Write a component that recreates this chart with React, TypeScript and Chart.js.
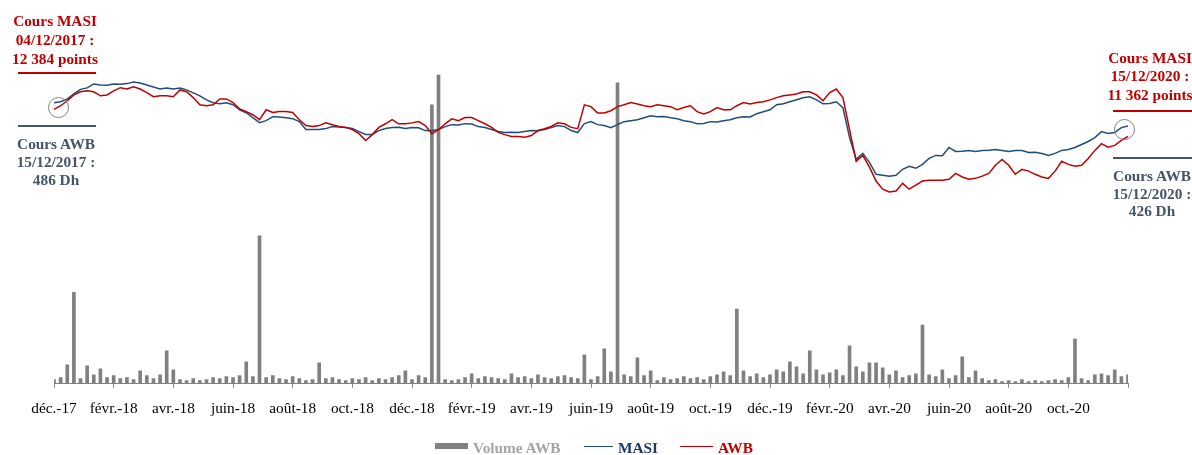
import React, { useEffect, useRef } from "react";
import { Chart, registerables } from "chart.js";

Chart.register(...registerables);

// ---------- data ----------
const START_DATE = "2017-12-04";
const END_DATE = "2020-12-15";
const POINT_COUNT = 163; // ~ one point per week
const TICK_STEP = 9; // one axis label every 9 points (~2 months)

const TICK_LABELS = [
  "déc.-17", "févr.-18", "avr.-18", "juin-18", "août-18", "oct.-18",
  "déc.-18", "févr.-19", "avr.-19", "juin-19", "août-19", "oct.-19",
  "déc.-19", "févr.-20", "avr.-20", "juin-20", "août-20", "oct.-20",
];

// MASI (points)
const MASI = [
  12384, 12428, 12559, 12780, 12975, 13040, 13216, 13172, 13160, 13216,
  13200, 13230, 13303, 13259, 13172, 13084, 12997, 13040, 12997, 13040,
  12953, 12822, 12690, 12515, 12384, 12340, 12384, 12297, 12078, 11946,
  11728, 11509, 11596, 11771, 11760, 11728, 11684, 11553, 11203, 11210,
  11203, 11246, 11334, 11320, 11290, 11246, 11115, 10984, 10990, 11159,
  11246, 11290, 11300, 11246, 11290, 11280, 11159, 11150, 11203, 11334,
  11421, 11410, 11465, 11450, 11334, 11290, 11203, 11115, 11071, 11080,
  11071, 11115, 11159, 11150, 11203, 11290, 11378, 11334, 11159, 11071,
  11465, 11553, 11421, 11378, 11290, 11421, 11553, 11596, 11640, 11728,
  11815, 11771, 11780, 11728, 11684, 11596, 11553, 11465, 11470, 11553,
  11540, 11596, 11640, 11728, 11771, 11760, 11903, 11990, 12078, 12297,
  12340, 12428, 12515, 12603, 12647, 12515, 12340, 12350, 12428, 12165,
  10852, 9890, 10152, 9758, 9233, 9190, 9146, 9190, 9452, 9583,
  9496, 9671, 9934, 10065, 10050, 10415, 10240, 10250, 10284, 10240,
  10284, 10290, 10327, 10284, 10240, 10284, 10280, 10196, 10200, 10152,
  10065, 10152, 10284, 10327, 10415, 10546, 10677, 10852, 11115, 11028,
  11071, 11290, 11362,
];

// AWB (Dh)
const AWB = [
  486, 494, 505, 518, 525, 527, 525, 516, 518, 527,
  534, 531, 536, 531, 523, 514, 516, 516, 514, 529,
  525, 512, 496, 494, 496, 509, 509, 501, 487, 481,
  474, 463, 485, 479, 481, 481, 479, 463, 450, 448,
  450, 456, 452, 448, 446, 441, 432, 417, 430, 446,
  454, 463, 454, 454, 456, 459, 450, 432, 441, 454,
  465, 461, 468, 468, 461, 454, 446, 435, 430, 426,
  426, 424, 428, 439, 443, 448, 456, 454, 446, 443,
  496, 492, 478, 478, 483, 492, 496, 501, 498, 494,
  492, 496, 494, 492, 485, 490, 494, 481, 476, 481,
  490, 485, 485, 494, 501, 498, 501, 503, 507, 512,
  516, 518, 520, 525, 525, 518, 505, 523, 531, 512,
  441, 371, 384, 358, 327, 309, 303, 305, 322, 309,
  318, 327, 329, 329, 329, 331, 344, 336, 331, 333,
  338, 344, 362, 375, 362, 342, 353, 349, 342, 336,
  333, 349, 371, 364, 360, 362, 377, 395, 410, 402,
  406, 417, 426,
];

// Volume AWB (milliers de titres)
const VOLUME_AWB = [
  20, 30, 95, 460, 25, 90, 45, 75, 30, 40,
  25, 30, 20, 65, 40, 25, 45, 165, 70, 20,
  15, 25, 15, 20, 30, 25, 35, 30, 40, 110,
  35, 745, 30, 40, 25, 20, 35, 25, 15, 20,
  105, 25, 30, 20, 15, 25, 20, 30, 15, 25,
  20, 30, 40, 65, 20, 40, 30, 1405, 1555, 20,
  15, 20, 30, 50, 25, 35, 30, 25, 20, 50,
  30, 35, 25, 45, 30, 25, 35, 40, 30, 25,
  145, 20, 35, 175, 60, 1515, 45, 35, 130, 40,
  65, 15, 30, 20, 25, 35, 25, 30, 20, 35,
  45, 60, 40, 375, 65, 35, 50, 30, 45, 70,
  60, 110, 85, 50, 165, 70, 45, 55, 70, 40,
  190, 85, 60, 105, 105, 80, 45, 65, 30, 40,
  50, 295, 45, 35, 70, 25, 40, 135, 30, 65,
  25, 15, 20, 10, 15, 10, 20, 10, 15, 10,
  15, 20, 15, 30, 225, 25, 15, 45, 50, 40,
  70, 35, 45,
];

function buildCategories(): string[] {
  const start = new Date(START_DATE + "T00:00:00Z").getTime();
  const end = new Date(END_DATE + "T00:00:00Z").getTime();
  const out: string[] = [];
  for (let i = 0; i < POINT_COUNT; i++) {
    const t = start + ((end - start) * i) / (POINT_COUNT - 1);
    out.push(new Date(t).toISOString().slice(0, 10));
  }
  return out;
}
const CATEGORIES = buildCategories();

// ---------- styles ----------
const FONT = "'Liberation Serif', 'Times New Roman', serif";
const FS = 15.3;
const RED = "#C00000";
const NAVY = "#1F4E79";
const SLATE = "#44546A";
const GRAY = "#808080";

const ANNOTATIONS = [
  { lines: ["Cours MASI", "04/12/2017 :", "12 384 points"], color: RED, cx: 55, top: 10.8, lh: 19 },
  { lines: ["Cours AWB", "15/12/2017 :", "486 Dh"], color: SLATE, cx: 56, top: 134.8, lh: 18 },
  { lines: ["Cours MASI", "15/12/2020 :", "11 362 points"], color: RED, cx: 1150, top: 48.6, lh: 18.5 },
  { lines: ["Cours AWB", "15/12/2020 :", "426 Dh"], color: SLATE, cx: 1152, top: 167.1, lh: 17.5 },
];

const RULES = [
  { x: 18, w: 78, y: 72, color: RED },
  { x: 18, w: 78, y: 125, color: SLATE },
  { x: 1113, w: 79, y: 110, color: RED },
  { x: 1113, w: 79, y: 157, color: SLATE },
];

const CIRCLES = [
  { cx: 58, cy: 107.5 },
  { cx: 1124, cy: 129.3 },
];

export default function App() {
  const canvasRef = useRef<HTMLCanvasElement | null>(null);

  useEffect(() => {
    const canvas = canvasRef.current;
    if (!canvas) return;
    const chart = new Chart(canvas, {
      type: "bar",
      data: {
        labels: CATEGORIES,
        datasets: [
          {
            type: "bar",
            label: "Volume AWB",
            data: VOLUME_AWB,
            yAxisID: "yVol",
            backgroundColor: GRAY,
            barThickness: 3,
            order: 2,
          } as any,
          {
            type: "line",
            label: "MASI",
            data: MASI,
            yAxisID: "yMasi",
            borderColor: NAVY,
            borderWidth: 1.5,
            pointRadius: 0,
            tension: 0,
            order: 1,
          } as any,
          {
            type: "line",
            label: "AWB",
            data: AWB,
            yAxisID: "yAwb",
            borderColor: RED,
            borderWidth: 1.5,
            pointRadius: 0,
            tension: 0,
            order: 0,
          } as any,
        ],
      },
      options: {
        responsive: false,
        animation: false,
        layout: { padding: { left: 54, right: 64, top: 70, bottom: 25 } },
        plugins: { legend: { display: false }, tooltip: { enabled: false } },
        scales: {
          x: {
            type: "category",
            offset: false,
            grid: {
              display: true,
              offset: false,
              drawOnChartArea: false,
              drawTicks: true,
              tickLength: 4,
              color: GRAY,
            },
            border: { display: true, color: GRAY, width: 1 },
            ticks: {
              autoSkip: false,
              maxRotation: 0,
              minRotation: 0,
              padding: 12,
              color: "#000",
              font: { family: FONT, size: FS },
              callback: (v: any) => TICK_LABELS[Number(v) / TICK_STEP] ?? "",
            },
            afterBuildTicks: (axis: any) => {
              axis.ticks = axis.ticks.filter((t: any) => t.value % TICK_STEP === 0);
            },
          } as any,
          y: { display: false },
          yVol: { display: false, min: 0, max: 1580 },
          yMasi: { display: false, min: 0, max: 13830 },
          yAwb: { display: false, min: -122, max: 573.2 },
        },
      },
    });
    return () => chart.destroy();
  }, []);

  const textBase: React.CSSProperties = {
    position: "absolute",
    fontFamily: FONT,
    fontSize: FS,
    fontWeight: 700,
    whiteSpace: "nowrap",
  };

  return (
    <div
      style={{
        position: "absolute",
        left: 0,
        top: 0,
        width: 1192,
        height: 455,
        overflow: "hidden",
        background: "#fff",
      }}
    >
      <canvas ref={canvasRef} width={1192} height={455} style={{ display: "block" }} />

      {ANNOTATIONS.map((a, k) => (
        <div
          key={"a" + k}
          style={{
            ...textBase,
            left: a.cx - 70,
            width: 140,
            top: a.top,
            lineHeight: a.lh + "px",
            textAlign: "center",
            color: a.color,
          }}
        >
          {a.lines.map((l, j) => (
            <div key={j}>{l}</div>
          ))}
        </div>
      ))}

      {RULES.map((r, k) => (
        <div
          key={"r" + k}
          style={{ position: "absolute", left: r.x, top: r.y, width: r.w, height: 2, background: r.color }}
        />
      ))}

      {CIRCLES.map((c, k) => (
        <div
          key={"c" + k}
          style={{
            position: "absolute",
            left: c.cx - 10.5,
            top: c.cy - 10.5,
            width: 21,
            height: 21,
            borderRadius: "50%",
            border: "1.5px solid " + GRAY,
            boxSizing: "border-box",
          }}
        />
      ))}

      {/* legend */}
      <div style={{ position: "absolute", left: 435, top: 443, width: 33, height: 6, background: GRAY }} />
      <div style={{ ...textBase, left: 473, top: 440.2, lineHeight: 1, color: "#A5A5A5" }}>Volume AWB</div>
      <div style={{ position: "absolute", left: 584, top: 445.5, width: 29, height: 1.5, background: NAVY }} />
      <div style={{ ...textBase, left: 618, top: 440.2, lineHeight: 1, color: "#1F3864" }}>MASI</div>
      <div style={{ position: "absolute", left: 680, top: 445.5, width: 33, height: 1.5, background: RED }} />
      <div style={{ ...textBase, left: 718, top: 440.2, lineHeight: 1, color: RED }}>AWB</div>
    </div>
  );
}
